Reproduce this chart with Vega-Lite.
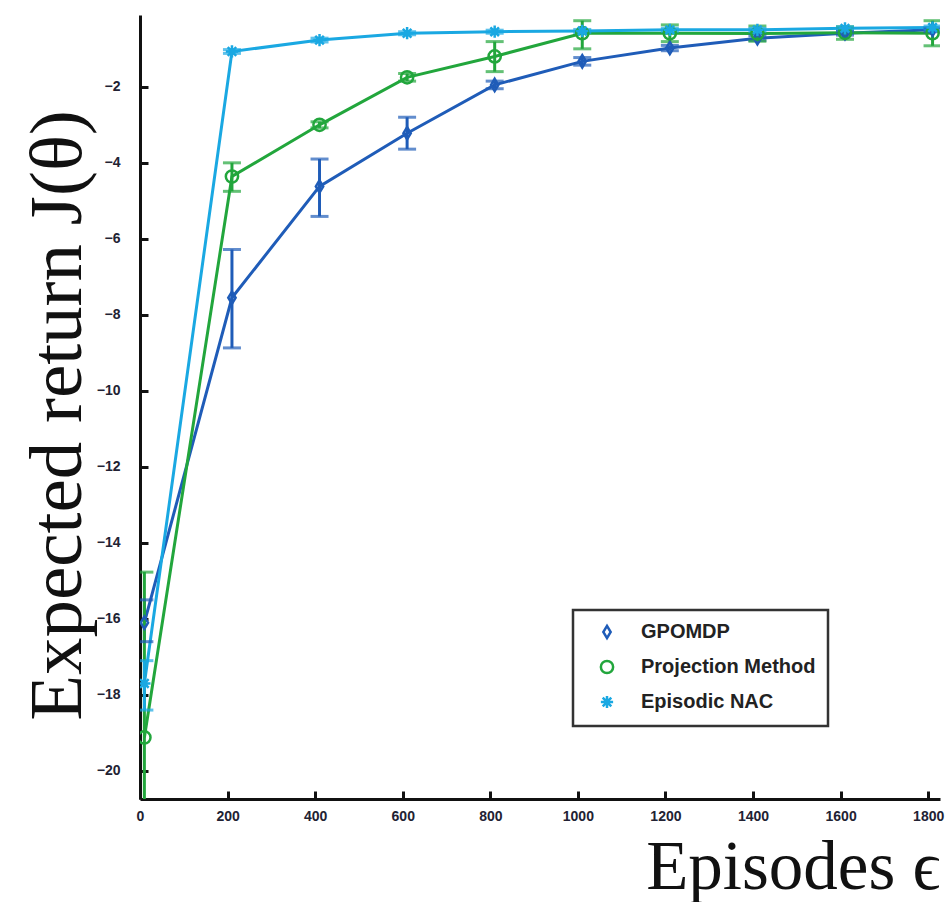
{
  "$schema": "https://vega.github.io/schema/vega-lite/v6.json",
  "width": 800,
  "height": 784,
  "autosize": {"type": "none"},
  "padding": {"left": 140, "top": 15, "right": 9, "bottom": 103},
  "background": "white",
  "config": {"view": {"stroke": null}, "legend": {"strokeWidth": 2.5}},
  "resolve": {"legend": {"color": "independent", "shape": "independent"}},
  "data": {"values": [
    {"method": "GPOMDP", "x": 10, "y": -16.1, "lo": -16.6, "hi": -15.5},
    {"method": "GPOMDP", "x": 210, "y": -7.55, "lo": -8.87, "hi": -6.28},
    {"method": "GPOMDP", "x": 410, "y": -4.62, "lo": -5.41, "hi": -3.9},
    {"method": "GPOMDP", "x": 610, "y": -3.22, "lo": -3.64, "hi": -2.8},
    {"method": "GPOMDP", "x": 810, "y": -1.95, "lo": -2.05, "hi": -1.85},
    {"method": "GPOMDP", "x": 1010, "y": -1.33, "lo": -1.43, "hi": -1.23},
    {"method": "GPOMDP", "x": 1210, "y": -0.98, "lo": -1.05, "hi": -0.91},
    {"method": "GPOMDP", "x": 1410, "y": -0.72, "lo": -0.78, "hi": -0.66},
    {"method": "GPOMDP", "x": 1610, "y": -0.59, "lo": -0.64, "hi": -0.54},
    {"method": "GPOMDP", "x": 1810, "y": -0.5, "lo": -0.55, "hi": -0.45},
    {"method": "Projection Method", "x": 10, "y": -19.12, "lo": -23.4, "hi": -14.77},
    {"method": "Projection Method", "x": 210, "y": -4.36, "lo": -4.75, "hi": -4.0},
    {"method": "Projection Method", "x": 410, "y": -3.0, "lo": -3.08, "hi": -2.92},
    {"method": "Projection Method", "x": 610, "y": -1.75, "lo": -1.85, "hi": -1.65},
    {"method": "Projection Method", "x": 810, "y": -1.2, "lo": -1.6, "hi": -0.81},
    {"method": "Projection Method", "x": 1010, "y": -0.59, "lo": -1.0, "hi": -0.26},
    {"method": "Projection Method", "x": 1210, "y": -0.59, "lo": -0.81, "hi": -0.37},
    {"method": "Projection Method", "x": 1410, "y": -0.6, "lo": -0.8, "hi": -0.4},
    {"method": "Projection Method", "x": 1610, "y": -0.58, "lo": -0.75, "hi": -0.42},
    {"method": "Projection Method", "x": 1810, "y": -0.59, "lo": -0.92, "hi": -0.26},
    {"method": "Episodic NAC", "x": 10, "y": -17.7, "lo": -18.4, "hi": -17.1},
    {"method": "Episodic NAC", "x": 210, "y": -1.07, "lo": -1.12, "hi": -1.02},
    {"method": "Episodic NAC", "x": 410, "y": -0.77, "lo": -0.82, "hi": -0.72},
    {"method": "Episodic NAC", "x": 610, "y": -0.59, "lo": -0.63, "hi": -0.55},
    {"method": "Episodic NAC", "x": 810, "y": -0.55, "lo": -0.59, "hi": -0.51},
    {"method": "Episodic NAC", "x": 1010, "y": -0.53, "lo": -0.57, "hi": -0.49},
    {"method": "Episodic NAC", "x": 1210, "y": -0.5, "lo": -0.54, "hi": -0.46},
    {"method": "Episodic NAC", "x": 1410, "y": -0.5, "lo": -0.54, "hi": -0.46},
    {"method": "Episodic NAC", "x": 1610, "y": -0.46, "lo": -0.5, "hi": -0.42},
    {"method": "Episodic NAC", "x": 1810, "y": -0.44, "lo": -0.48, "hi": -0.4}
  ]},
  "encoding": {
    "x": {
      "field": "x", "type": "quantitative",
      "scale": {"domain": [0, 1827], "nice": false, "zero": false},
      "axis": {
        "title": "Episodes ϵ",
        "values": [0, 200, 400, 600, 800, 1000, 1200, 1400, 1600, 1800],
        "format": "d",
        "grid": false,
        "domainColor": "#111", "domainWidth": 3,
        "tickColor": "#111", "tickWidth": 3, "tickSize": -8,
        "labelPadding": 18,
        "labelFont": "Liberation Sans", "labelFontSize": 14, "labelFontWeight": "bold",
        "labelColor": "#223", "labelFlush": false,
        "titleFont": "Liberation Serif", "titleFontSize": 69, "titleFontWeight": "normal",
        "titleColor": "#111",
        "titleX": 800, "titleY": 89, "titleAlign": "right", "titleBaseline": "alphabetic", "titleAnchor": null
      }
    },
    "y": {
      "field": "y", "type": "quantitative",
      "scale": {"domain": [-20.74, -0.11], "nice": false, "zero": false},
      "axis": {
        "title": "Expected return J(θ)",
        "values": [-20, -18, -16, -14, -12, -10, -8, -6, -4, -2],
        "grid": false,
        "domainColor": "#111", "domainWidth": 3,
        "tickColor": "#111", "tickWidth": 3, "tickSize": -8,
        "labelPadding": 28,
        "labelFont": "Liberation Sans", "labelFontSize": 14, "labelFontWeight": "bold",
        "labelColor": "#223",
        "titleFont": "Liberation Serif", "titleFontSize": 75, "titleFontWeight": "normal",
        "titleColor": "#111",
        "titleX": -60, "titleY": 400, "titleAngle": -90, "titleAlign": "center", "titleBaseline": "alphabetic"
      }
    },
    "color": {"field": "method", "type": "nominal",
      "scale": {"domain": ["GPOMDP", "Projection Method", "Episodic NAC"], "range": ["#1f5cb8", "#22a63c", "#1aa8e2"]},
      "legend": null}
  },
  "layer": [
    {
      "mark": {"type": "line", "strokeWidth": 3, "clip": true}
    },
    {
      "mark": {"type": "rule", "strokeWidth": 3, "clip": true},
      "encoding": {"y": {"field": "lo", "type": "quantitative"}, "y2": {"field": "hi"}}
    },
    {
      "mark": {"type": "tick", "orient": "horizontal", "size": 18, "thickness": 3, "clip": true},
      "encoding": {"y": {"field": "lo", "type": "quantitative"}}
    },
    {
      "mark": {"type": "tick", "orient": "horizontal", "size": 18, "thickness": 3, "clip": true},
      "encoding": {"y": {"field": "hi", "type": "quantitative"}}
    },
    {
      "mark": {"type": "point", "filled": false, "strokeWidth": 2.5, "size": 150, "opacity": 1, "clip": true},
      "encoding": {
        "shape": {
          "field": "method", "type": "nominal",
          "scale": {"domain": ["GPOMDP", "Projection Method", "Episodic NAC"],
            "range": ["M0,-1L0.6,0L0,1L-0.6,0Z", "circle", "M-1,0L1,0M0,-1L0,1M-0.7,-0.7L0.7,0.7M-0.7,0.7L0.7,-0.7"]},
          "legend": {
            "title": null,
            "orient": "none",
            "legendX": 433, "legendY": 595,
            "padding": 12,
            "strokeColor": "#333", "fillColor": "white",
            "symbolOffset": 12,
            "symbolSize": 150, "symbolStrokeWidth": 2.5,
            "labelFont": "Liberation Sans", "labelFontSize": 20, "labelFontWeight": "bold",
            "labelColor": "#222", "labelOffset": 24, "labelLimit": 400,
            "rowPadding": 11
          }
        },
        "color": {
          "field": "method", "type": "nominal",
          "legend": {
            "title": null,
            "orient": "none",
            "legendX": 433, "legendY": 595,
            "padding": 12,
            "strokeColor": "#333", "fillColor": "white",
            "symbolOffset": 12,
            "symbolSize": 150, "symbolStrokeWidth": 2.5,
            "labelFont": "Liberation Sans", "labelFontSize": 20, "labelFontWeight": "bold",
            "labelColor": "#222", "labelOffset": 24, "labelLimit": 400,
            "rowPadding": 11
          }
        }
      }
    }
  ]
}
